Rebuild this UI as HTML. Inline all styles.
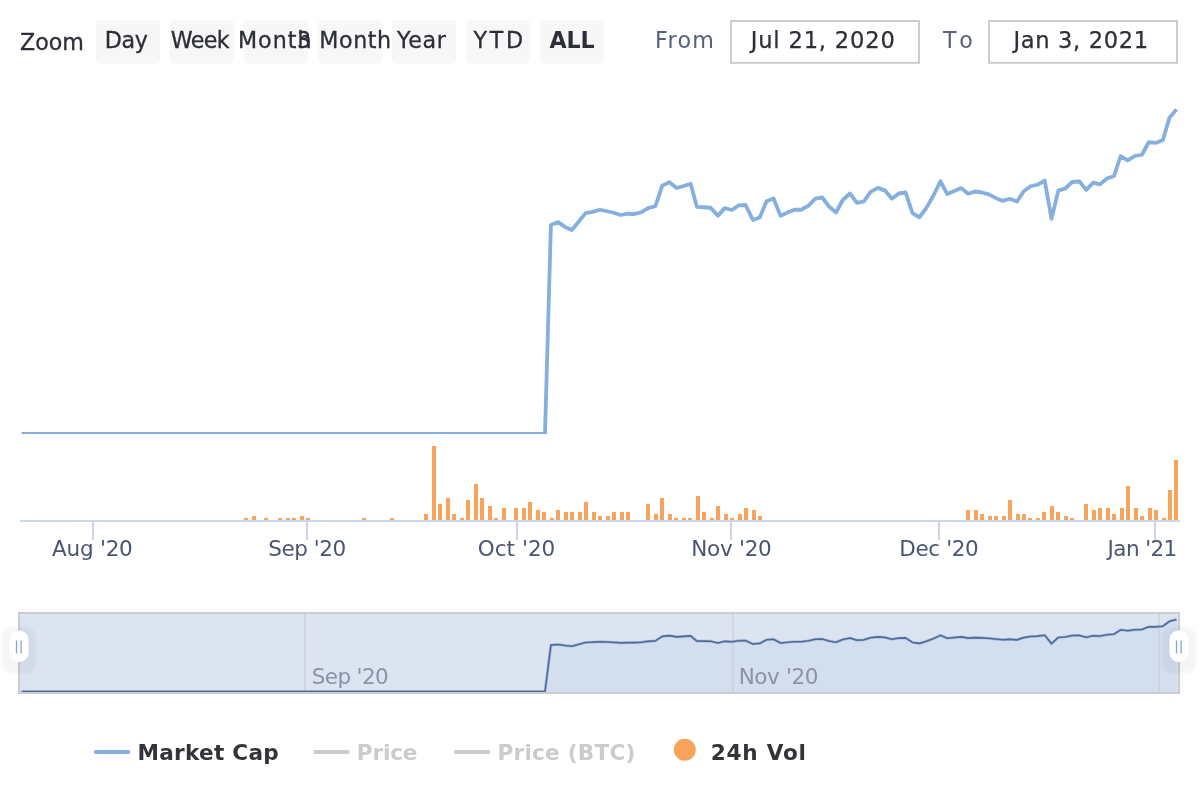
<!DOCTYPE html>
<html lang="en"><head><meta charset="utf-8"><title>Chart</title>
<style>html,body{margin:0;padding:0;background:#fff;}body{width:1200px;height:800px;overflow:hidden;}svg{display:block;opacity:0.999;will-change:transform;}text{font-family:"DejaVu Sans", "Liberation Sans", Verdana, sans-serif;}.btn{fill:#f7f7f7;}</style></head><body>
<svg width="1200" height="800" viewBox="0 0 1200 800">
<rect width="1200" height="800" fill="#ffffff"/>
<defs><clipPath id="plot"><rect x="20" y="90" width="1160" height="344"/></clipPath><clipPath id="nav"><rect x="20" y="614" width="1158" height="78"/></clipPath><filter id="hb" x="-50%" y="-50%" width="200%" height="200%"><feGaussianBlur stdDeviation="1.6"/></filter></defs>
<text x="20.07" y="49.7" font-size="22.2" letter-spacing="-0.023" fill="#2d2f38" stroke="#2d2f38" stroke-width="0.3">Zoom</text>
<rect class="btn" x="96" y="20" width="64" height="43.7" rx="4.5"/>
<rect class="btn" x="170" y="20" width="64" height="43.7" rx="4.5"/>
<rect class="btn" x="244" y="20" width="64" height="43.7" rx="4.5"/>
<rect class="btn" x="318" y="20" width="64" height="43.7" rx="4.5"/>
<rect class="btn" x="392" y="20" width="64" height="43.7" rx="4.5"/>
<rect class="btn" x="466" y="20" width="64" height="43.7" rx="4.5"/>
<rect class="btn" x="540" y="20" width="64" height="43.7" rx="4.5"/>
<text x="104.7" y="47.6" font-size="22.2" letter-spacing="-0.35" fill="#2d2f38" stroke="#2d2f38" stroke-width="0.3">Day</text>
<text x="170.7" y="47.6" font-size="22.2" letter-spacing="-0.6" fill="#2d2f38" stroke="#2d2f38" stroke-width="0.3">Week</text>
<text x="237.9" y="47.6" font-size="22.2" letter-spacing="1.025" fill="#2d2f38" stroke="#2d2f38" stroke-width="0.3">Month</text>
<text x="297.0" y="47.6" font-size="22.2" letter-spacing="0.567" fill="#2d2f38" stroke="#2d2f38" stroke-width="0.3">3 Month</text>
<text x="396.9" y="47.6" font-size="22.2" letter-spacing="0.7" fill="#2d2f38" stroke="#2d2f38" stroke-width="0.3">Year</text>
<text x="473.6" y="47.6" font-size="22.2" letter-spacing="2.7" fill="#2d2f38" stroke="#2d2f38" stroke-width="0.3">YTD</text>
<text x="549.5" y="47.6" font-size="22.2" letter-spacing="-0.1" fill="#2d2f38" font-weight="bold">ALL</text>
<text x="655.0" y="48" font-size="22.2" letter-spacing="1.333" fill="#56617f">From</text>
<rect x="731" y="21" width="188" height="41.8" fill="#fff" stroke="#cccccc" stroke-width="2"/>
<text x="750.75" y="47.5" font-size="22.6" letter-spacing="0.818" fill="#2d2f38" stroke="#2d2f38" stroke-width="0.25">Jul 21, 2020</text>
<text x="942.9" y="48" font-size="22.2" letter-spacing="6.6" fill="#56617f">To</text>
<rect x="989" y="21" width="188" height="41.8" fill="#fff" stroke="#cccccc" stroke-width="2"/>
<text x="1013.5" y="47.5" font-size="22.6" letter-spacing="0.63" fill="#2d2f38" stroke="#2d2f38" stroke-width="0.25">Jan 3, 2021</text>
<g fill="#f7a35c" shape-rendering="crispEdges">
<rect x="244" y="518" width="4" height="2"/>
<rect x="252" y="516" width="4" height="4"/>
<rect x="264" y="518" width="4" height="2"/>
<rect x="278" y="518" width="4" height="2"/>
<rect x="286" y="518" width="4" height="2"/>
<rect x="292" y="518" width="4" height="2"/>
<rect x="300" y="516" width="4" height="4"/>
<rect x="306" y="518" width="4" height="2"/>
<rect x="362" y="518" width="4" height="2"/>
<rect x="390" y="518" width="4" height="2"/>
<rect x="424" y="514" width="4" height="6"/>
<rect x="432" y="446" width="4" height="74"/>
<rect x="438" y="504" width="4" height="16"/>
<rect x="446" y="498" width="4" height="22"/>
<rect x="452" y="514" width="4" height="6"/>
<rect x="460" y="518" width="4" height="2"/>
<rect x="466" y="500" width="4" height="20"/>
<rect x="474" y="484" width="4" height="36"/>
<rect x="480" y="498" width="4" height="22"/>
<rect x="488" y="506" width="4" height="14"/>
<rect x="494" y="518" width="4" height="2"/>
<rect x="502" y="508" width="4" height="12"/>
<rect x="514" y="508" width="4" height="12"/>
<rect x="522" y="508" width="4" height="12"/>
<rect x="528" y="502" width="4" height="18"/>
<rect x="536" y="510" width="4" height="10"/>
<rect x="542" y="512" width="4" height="8"/>
<rect x="550" y="518" width="4" height="2"/>
<rect x="556" y="510" width="4" height="10"/>
<rect x="564" y="512" width="4" height="8"/>
<rect x="570" y="512" width="4" height="8"/>
<rect x="578" y="512" width="4" height="8"/>
<rect x="584" y="502" width="4" height="18"/>
<rect x="592" y="512" width="4" height="8"/>
<rect x="598" y="516" width="4" height="4"/>
<rect x="606" y="516" width="4" height="4"/>
<rect x="612" y="512" width="4" height="8"/>
<rect x="620" y="512" width="4" height="8"/>
<rect x="626" y="512" width="4" height="8"/>
<rect x="646" y="504" width="4" height="16"/>
<rect x="654" y="514" width="4" height="6"/>
<rect x="660" y="498" width="4" height="22"/>
<rect x="668" y="514" width="4" height="6"/>
<rect x="674" y="518" width="4" height="2"/>
<rect x="682" y="518" width="4" height="2"/>
<rect x="688" y="518" width="4" height="2"/>
<rect x="696" y="496" width="4" height="24"/>
<rect x="702" y="512" width="4" height="8"/>
<rect x="710" y="518" width="4" height="2"/>
<rect x="716" y="506" width="4" height="14"/>
<rect x="724" y="514" width="4" height="6"/>
<rect x="730" y="518" width="4" height="2"/>
<rect x="738" y="514" width="4" height="6"/>
<rect x="744" y="508" width="4" height="12"/>
<rect x="752" y="510" width="4" height="10"/>
<rect x="758" y="516" width="4" height="4"/>
<rect x="966" y="510" width="4" height="10"/>
<rect x="974" y="510" width="4" height="10"/>
<rect x="980" y="514" width="4" height="6"/>
<rect x="988" y="516" width="4" height="4"/>
<rect x="994" y="516" width="4" height="4"/>
<rect x="1002" y="516" width="4" height="4"/>
<rect x="1008" y="500" width="4" height="20"/>
<rect x="1016" y="514" width="4" height="6"/>
<rect x="1022" y="514" width="4" height="6"/>
<rect x="1028" y="518" width="4" height="2"/>
<rect x="1036" y="518" width="4" height="2"/>
<rect x="1042" y="512" width="4" height="8"/>
<rect x="1050" y="506" width="4" height="14"/>
<rect x="1056" y="512" width="4" height="8"/>
<rect x="1064" y="516" width="4" height="4"/>
<rect x="1070" y="518" width="4" height="2"/>
<rect x="1084" y="504" width="4" height="16"/>
<rect x="1092" y="510" width="4" height="10"/>
<rect x="1098" y="508" width="4" height="12"/>
<rect x="1106" y="508" width="4" height="12"/>
<rect x="1112" y="514" width="4" height="6"/>
<rect x="1120" y="508" width="4" height="12"/>
<rect x="1126" y="486" width="4" height="34"/>
<rect x="1134" y="508" width="4" height="12"/>
<rect x="1140" y="516" width="4" height="4"/>
<rect x="1148" y="508" width="4" height="12"/>
<rect x="1154" y="510" width="4" height="10"/>
<rect x="1162" y="518" width="4" height="2"/>
<rect x="1168" y="490" width="4" height="30"/>
<rect x="1174" y="460" width="4" height="60"/>
</g>
<g fill="#ccd6eb" shape-rendering="crispEdges"><rect x="20" y="520" width="1160" height="2"/>
<rect x="92" y="522" width="2" height="18"/>
<rect x="306" y="522" width="2" height="18"/>
<rect x="516" y="522" width="2" height="18"/>
<rect x="730" y="522" width="2" height="18"/>
<rect x="938" y="522" width="2" height="18"/>
<rect x="1154" y="522" width="2" height="18"/>
</g>
<text x="52.0" y="555.7" font-size="21.5" letter-spacing="-0.217" fill="#4a5573">Aug '20</text>
<text x="268.2" y="555.7" font-size="21.5" letter-spacing="-0.45" fill="#4a5573">Sep '20</text>
<text x="477.8" y="555.7" font-size="21.5" letter-spacing="0.033" fill="#4a5573">Oct '20</text>
<text x="691.3" y="555.7" font-size="21.5" letter-spacing="-0.267" fill="#4a5573">Nov '20</text>
<text x="899.3" y="555.7" font-size="21.5" letter-spacing="-0.367" fill="#4a5573">Dec '20</text>
<text x="1107.6" y="555.7" font-size="21.5" letter-spacing="-0.6" fill="#4a5573">Jan '21</text>
<g clip-path="url(#plot)"><path d="M21.60 434.00 L545.00 434.00 L550.90 225.00 L558.10 222.10 L565.00 226.90 L571.90 230.00 L585.60 213.10 L592.50 211.90 L599.75 209.75 L606.00 211.00 L613.00 212.50 L620.60 215.00 L627.50 213.75 L634.40 214.00 L641.25 212.25 L648.10 208.10 L655.40 206.25 L662.25 185.60 L669.40 182.25 L676.60 188.00 L683.75 186.00 L690.60 183.75 L696.90 206.90 L703.75 207.25 L710.60 207.75 L717.90 215.60 L724.75 208.10 L731.90 210.00 L738.75 205.40 L745.60 205.00 L752.90 220.00 L759.75 217.50 L766.60 201.25 L773.50 198.50 L780.60 215.90 L787.50 212.50 L794.40 209.75 L801.25 209.75 L808.50 205.60 L815.40 198.60 L822.25 197.50 L828.75 206.25 L836.00 212.50 L842.75 200.00 L850.00 193.50 L856.90 202.90 L863.75 201.50 L870.60 191.90 L877.90 187.90 L885.00 190.60 L891.90 198.75 L898.75 193.50 L905.60 192.50 L912.50 213.10 L919.40 217.25 L926.25 208.10 L933.10 196.25 L940.40 181.25 L947.25 194.10 L953.75 191.25 L961.25 188.10 L968.10 193.75 L975.00 191.50 L981.90 192.50 L988.75 194.40 L995.60 197.90 L1002.75 200.90 L1009.75 198.75 L1016.90 201.60 L1023.75 191.25 L1030.60 186.25 L1037.50 184.75 L1044.75 180.60 L1051.50 218.75 L1058.30 190.60 L1065.10 188.50 L1072.25 182.00 L1079.40 181.50 L1086.25 189.90 L1093.10 182.70 L1100.00 184.40 L1106.90 178.50 L1114.00 176.00 L1120.60 156.25 L1127.75 160.40 L1134.75 156.00 L1141.90 154.75 L1148.75 142.25 L1155.60 142.90 L1162.90 140.00 L1169.40 117.90 L1176.50 109.40" fill="none" stroke="#85afdd" stroke-width="3.8" stroke-linejoin="round" stroke-linecap="butt"/></g>
<rect x="20" y="614" width="1158" height="78" fill="#dce3f1"/>
<g clip-path="url(#nav)"><path d="M21.60 691.50 L545.00 691.50 L550.90 645.08 L558.10 644.44 L565.00 645.50 L571.90 646.19 L585.60 642.44 L592.50 642.17 L599.75 641.69 L606.00 641.97 L613.00 642.30 L620.60 642.86 L627.50 642.58 L634.40 642.64 L641.25 642.25 L648.10 641.33 L655.40 640.92 L662.25 636.33 L669.40 635.59 L676.60 636.86 L683.75 636.42 L690.60 635.92 L696.90 641.06 L703.75 641.14 L710.60 641.25 L717.90 642.99 L724.75 641.33 L731.90 641.75 L738.75 640.73 L745.60 640.64 L752.90 643.97 L759.75 643.42 L766.60 639.81 L773.50 639.20 L780.60 643.06 L787.50 642.30 L794.40 641.69 L801.25 641.69 L808.50 640.77 L815.40 639.22 L822.25 638.97 L828.75 640.92 L836.00 642.30 L842.75 639.53 L850.00 638.08 L856.90 640.17 L863.75 639.86 L870.60 637.73 L877.90 636.84 L885.00 637.44 L891.90 639.25 L898.75 638.08 L905.60 637.86 L912.50 642.44 L919.40 643.36 L926.25 641.33 L933.10 638.70 L940.40 635.36 L947.25 638.22 L953.75 637.59 L961.25 636.89 L968.10 638.14 L975.00 637.64 L981.90 637.86 L988.75 638.28 L995.60 639.06 L1002.75 639.73 L1009.75 639.25 L1016.90 639.88 L1023.75 637.59 L1030.60 636.47 L1037.50 636.14 L1044.75 635.22 L1051.50 643.69 L1058.30 637.44 L1065.10 636.97 L1072.25 635.53 L1079.40 635.42 L1086.25 637.29 L1093.10 635.69 L1100.00 636.06 L1106.90 634.75 L1114.00 634.20 L1120.60 629.81 L1127.75 630.73 L1134.75 629.76 L1141.90 629.48 L1148.75 626.70 L1155.60 626.85 L1162.90 626.20 L1169.40 621.29 L1176.50 619.41 L1176.5 692 L21.6 692 Z" fill="#d3deee"/>
<rect x="304.15" y="614" width="1.2" height="78" fill="#c8cad2" fill-opacity="0.85"/>
<text x="311.75" y="683.7" font-size="21.5" letter-spacing="-0.625" fill="#8a93a8">Sep '20</text>
<rect x="732.4" y="614" width="1.2" height="78" fill="#c8cad2" fill-opacity="0.85"/>
<text x="738.7" y="683.7" font-size="21.5" letter-spacing="-0.4" fill="#8a93a8">Nov '20</text>
<rect x="1158.4" y="614" width="1.2" height="78" fill="#c8cad2" fill-opacity="0.85"/>
<path d="M21.60 691.50 L545.00 691.50 L550.90 645.08 L558.10 644.44 L565.00 645.50 L571.90 646.19 L585.60 642.44 L592.50 642.17 L599.75 641.69 L606.00 641.97 L613.00 642.30 L620.60 642.86 L627.50 642.58 L634.40 642.64 L641.25 642.25 L648.10 641.33 L655.40 640.92 L662.25 636.33 L669.40 635.59 L676.60 636.86 L683.75 636.42 L690.60 635.92 L696.90 641.06 L703.75 641.14 L710.60 641.25 L717.90 642.99 L724.75 641.33 L731.90 641.75 L738.75 640.73 L745.60 640.64 L752.90 643.97 L759.75 643.42 L766.60 639.81 L773.50 639.20 L780.60 643.06 L787.50 642.30 L794.40 641.69 L801.25 641.69 L808.50 640.77 L815.40 639.22 L822.25 638.97 L828.75 640.92 L836.00 642.30 L842.75 639.53 L850.00 638.08 L856.90 640.17 L863.75 639.86 L870.60 637.73 L877.90 636.84 L885.00 637.44 L891.90 639.25 L898.75 638.08 L905.60 637.86 L912.50 642.44 L919.40 643.36 L926.25 641.33 L933.10 638.70 L940.40 635.36 L947.25 638.22 L953.75 637.59 L961.25 636.89 L968.10 638.14 L975.00 637.64 L981.90 637.86 L988.75 638.28 L995.60 639.06 L1002.75 639.73 L1009.75 639.25 L1016.90 639.88 L1023.75 637.59 L1030.60 636.47 L1037.50 636.14 L1044.75 635.22 L1051.50 643.69 L1058.30 637.44 L1065.10 636.97 L1072.25 635.53 L1079.40 635.42 L1086.25 637.29 L1093.10 635.69 L1100.00 636.06 L1106.90 634.75 L1114.00 634.20 L1120.60 629.81 L1127.75 630.73 L1134.75 629.76 L1141.90 629.48 L1148.75 626.70 L1155.60 626.85 L1162.90 626.20 L1169.40 621.29 L1176.50 619.41" fill="none" stroke="#85afdd" stroke-opacity="0.7" stroke-width="2.8" stroke-linejoin="round"/>
<path d="M21.60 691.50 L545.00 691.50 L550.90 645.08 L558.10 644.44 L565.00 645.50 L571.90 646.19 L585.60 642.44 L592.50 642.17 L599.75 641.69 L606.00 641.97 L613.00 642.30 L620.60 642.86 L627.50 642.58 L634.40 642.64 L641.25 642.25 L648.10 641.33 L655.40 640.92 L662.25 636.33 L669.40 635.59 L676.60 636.86 L683.75 636.42 L690.60 635.92 L696.90 641.06 L703.75 641.14 L710.60 641.25 L717.90 642.99 L724.75 641.33 L731.90 641.75 L738.75 640.73 L745.60 640.64 L752.90 643.97 L759.75 643.42 L766.60 639.81 L773.50 639.20 L780.60 643.06 L787.50 642.30 L794.40 641.69 L801.25 641.69 L808.50 640.77 L815.40 639.22 L822.25 638.97 L828.75 640.92 L836.00 642.30 L842.75 639.53 L850.00 638.08 L856.90 640.17 L863.75 639.86 L870.60 637.73 L877.90 636.84 L885.00 637.44 L891.90 639.25 L898.75 638.08 L905.60 637.86 L912.50 642.44 L919.40 643.36 L926.25 641.33 L933.10 638.70 L940.40 635.36 L947.25 638.22 L953.75 637.59 L961.25 636.89 L968.10 638.14 L975.00 637.64 L981.90 637.86 L988.75 638.28 L995.60 639.06 L1002.75 639.73 L1009.75 639.25 L1016.90 639.88 L1023.75 637.59 L1030.60 636.47 L1037.50 636.14 L1044.75 635.22 L1051.50 643.69 L1058.30 637.44 L1065.10 636.97 L1072.25 635.53 L1079.40 635.42 L1086.25 637.29 L1093.10 635.69 L1100.00 636.06 L1106.90 634.75 L1114.00 634.20 L1120.60 629.81 L1127.75 630.73 L1134.75 629.76 L1141.90 629.48 L1148.75 626.70 L1155.60 626.85 L1162.90 626.20 L1169.40 621.29 L1176.50 619.41" fill="none" stroke="#546a96" stroke-width="1.6" stroke-linejoin="round"/>
</g>
<rect x="19" y="613" width="1160" height="80" fill="none" stroke="#cccccc" stroke-width="2"/>
<rect x="2" y="627" width="34" height="46" rx="11" fill="#000" fill-opacity="0.038" filter="url(#hb)"/>
<rect x="9.5" y="630.5" width="19" height="31.5" rx="9" fill="#ffffff"/>
<path d="M16.5 640.5V653.5M21 640.5V653.5" stroke="#86a3cf" stroke-width="1.3" fill="none"/>
<rect x="1162" y="627" width="34" height="46" rx="11" fill="#000" fill-opacity="0.038" filter="url(#hb)"/>
<rect x="1169.5" y="630.5" width="19" height="31.5" rx="9" fill="#ffffff"/>
<path d="M1176.5 640.5V653.5M1181 640.5V653.5" stroke="#86a3cf" stroke-width="1.3" fill="none"/>
<path d="M95.75 752H128.3" stroke="#85afdd" stroke-width="4" stroke-linecap="round" fill="none"/>
<text x="137.5" y="759.8" font-size="21.6" letter-spacing="0.267" fill="#333338" font-weight="bold">Market Cap</text>
<path d="M315.25 752H347.8" stroke="#cccccc" stroke-width="4" stroke-linecap="round" fill="none"/>
<text x="356.7" y="759.8" font-size="21.6" letter-spacing="-0.125" fill="#cccccc" font-weight="bold">Price</text>
<path d="M455.75 752H488.3" stroke="#cccccc" stroke-width="4" stroke-linecap="round" fill="none"/>
<text x="497.5" y="759.8" font-size="21.6" letter-spacing="0.23" fill="#cccccc" font-weight="bold">Price (BTC)</text>
<circle cx="684.8" cy="749.8" r="11" fill="#f7a35c"/>
<text x="710.7" y="759.8" font-size="21.6" letter-spacing="0.75" fill="#333338" font-weight="bold">24h Vol</text>
</svg></body></html>
